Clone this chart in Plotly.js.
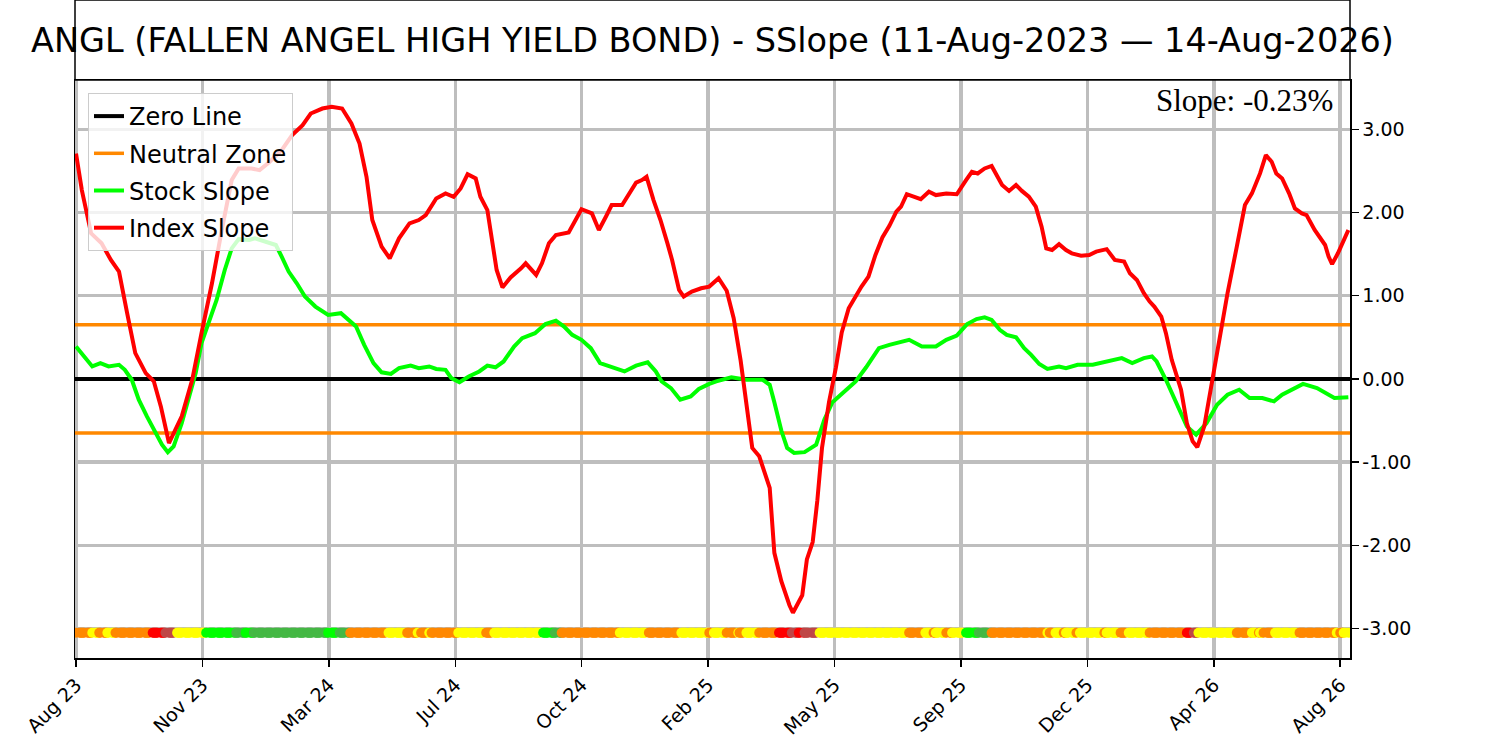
<!DOCTYPE html>
<html>
<head>
<meta charset="utf-8">
<script src="https://cdn.plot.ly/plotly-3.0.1.min.js"></script>
<style>html,body{margin:0;padding:0;background:#fff;}#chart{width:1500px;height:741px;}</style>
</head>
<body>
<div id="chart"></div>
<script>
// ---------- data ----------
const chartTitle = 'ANGL (FALLEN ANGEL HIGH YIELD BOND) - SSlope (11-Aug-2023 \u2014 14-Aug-2026)';
const slopeText = 'Slope: -0.23%';

const xRange = ['2023-08-10 03:00', '2026-08-11 10:00'];
const xTickVals = ['2023-08-11', '2023-11-27 19:00', '2024-03-15 14:00', '2024-07-02 10:00', '2024-10-19 05:00',
  '2025-02-05', '2025-05-24 19:00', '2025-09-10 14:00', '2025-12-28 10:00', '2026-04-16 05:00', '2026-08-03'];
const xTickText = ['Aug 23', 'Nov 23', 'Mar 24', 'Jul 24', 'Oct 24', 'Feb 25', 'May 25', 'Sep 25', 'Dec 25', 'Apr 26', 'Aug 26'];

const yRange = [-3.354, 3.593];
const yTickVals = [-3, -2, -1, 0, 1, 2, 3];
const yTickText = ['-3.00', '-2.00', '-1.00', '0.00', '1.00', '2.00', '3.00'];

const zeroLevel = 0;
const neutralBand = 0.65;
const stripLevel = -3.05;

const indexDates = ['2023-08-11','2023-08-16','2023-08-24','2023-09-02','2023-09-10','2023-09-17','2023-09-24','2023-10-01','2023-10-10','2023-10-17',
 '2023-10-23','2023-10-30','2023-11-10','2023-11-19','2023-11-27','2023-12-06','2023-12-15','2023-12-23','2023-12-29','2024-01-09',
 '2024-01-16','2024-01-24','2024-02-04','2024-02-13','2024-02-22','2024-02-29','2024-03-10','2024-03-18','2024-03-27','2024-04-04',
 '2024-04-11','2024-04-17','2024-04-22','2024-04-30','2024-05-07','2024-05-15','2024-05-24','2024-06-01','2024-06-07','2024-06-16',
 '2024-06-24','2024-07-01','2024-07-07','2024-07-13','2024-07-20','2024-07-24','2024-07-30','2024-08-03','2024-08-07','2024-08-12',
 '2024-08-19','2024-08-28','2024-09-01','2024-09-10','2024-09-15','2024-09-21','2024-09-27','2024-10-08','2024-10-14','2024-10-19',
 '2024-10-28','2024-11-03','2024-11-09','2024-11-14','2024-11-23','2024-11-29','2024-12-05','2024-12-10','2024-12-14','2024-12-20',
 '2024-12-26','2025-01-01','2025-01-05','2025-01-11','2025-01-15','2025-01-22','2025-01-30','2025-02-06','2025-02-14','2025-02-21',
 '2025-02-27','2025-03-05','2025-03-10','2025-03-15','2025-03-21','2025-03-30','2025-04-03','2025-04-09','2025-04-16','2025-04-19',
 '2025-04-27','2025-05-01','2025-05-06','2025-05-10','2025-05-14','2025-05-20','2025-05-26','2025-05-31','2025-06-06','2025-06-12',
 '2025-06-17','2025-06-23','2025-06-29','2025-07-05','2025-07-11','2025-07-17','2025-07-21','2025-07-26','2025-08-07','2025-08-14',
 '2025-08-20','2025-08-29','2025-09-07','2025-09-15','2025-09-20','2025-09-25','2025-10-01','2025-10-07','2025-10-11','2025-10-16',
 '2025-10-22','2025-10-28','2025-11-02','2025-11-08','2025-11-14','2025-11-19','2025-11-23','2025-11-28','2025-12-04','2025-12-10',
 '2025-12-15','2025-12-23','2025-12-30','2026-01-05','2026-01-14','2026-01-21','2026-01-29','2026-02-03','2026-02-09','2026-02-15',
 '2026-02-20','2026-02-24','2026-03-02','2026-03-06','2026-03-11','2026-03-19','2026-03-24','2026-03-29','2026-04-02','2026-04-08',
 '2026-04-14','2026-04-21','2026-04-28','2026-05-06','2026-05-13','2026-05-19','2026-05-26','2026-05-31','2026-06-05','2026-06-09',
 '2026-06-14','2026-06-20','2026-06-25','2026-07-01','2026-07-05','2026-07-12','2026-07-16','2026-07-21','2026-07-24','2026-07-27',
 '2026-08-01','2026-08-10'];
const indexSlope = [2.71,2.27,1.75,1.63,1.43,1.29,0.79,0.31,0.07,-0.03,
 -0.33,-0.77,-0.45,-0.01,0.55,1.15,1.83,2.39,2.53,2.53,
 2.51,2.60,2.75,2.93,3.05,3.19,3.25,3.27,3.25,3.07,
 2.83,2.43,1.91,1.59,1.45,1.69,1.87,1.91,1.97,2.17,
 2.23,2.19,2.29,2.46,2.41,2.19,2.03,1.67,1.31,1.10,
 1.22,1.33,1.39,1.25,1.39,1.63,1.73,1.76,1.91,2.04,
 1.99,1.79,1.95,2.09,2.09,2.23,2.36,2.39,2.43,2.15,
 1.91,1.63,1.43,1.07,0.99,1.05,1.09,1.11,1.21,1.06,
 0.73,0.22,-0.32,-0.83,-0.93,-1.31,-2.09,-2.43,-2.72,-2.81,
 -2.60,-2.17,-1.96,-1.46,-0.83,-0.28,0.14,0.56,0.85,1.00,
 1.11,1.23,1.49,1.70,1.84,2.01,2.07,2.22,2.16,2.25,
 2.21,2.23,2.22,2.39,2.49,2.47,2.53,2.56,2.45,2.33,
 2.26,2.33,2.26,2.19,2.07,1.83,1.57,1.55,1.62,1.55,
 1.51,1.48,1.49,1.53,1.56,1.43,1.41,1.27,1.19,1.03,
 0.93,0.87,0.75,0.55,0.23,-0.13,-0.53,-0.75,-0.82,-0.57,
 -0.09,0.47,1.03,1.59,2.09,2.23,2.47,2.69,2.61,2.47,
 2.41,2.23,2.05,1.99,1.97,1.79,1.71,1.61,1.47,1.38,
 1.51,1.79];

const stockDates = ['2023-08-11','2023-08-18','2023-08-25','2023-09-01','2023-09-08','2023-09-17','2023-09-22','2023-09-28','2023-10-04','2023-10-11',
 '2023-10-18','2023-10-24','2023-10-29','2023-11-03','2023-11-10','2023-11-16','2023-11-22','2023-11-27','2023-12-03','2023-12-10',
 '2023-12-17','2023-12-23','2023-12-29','2024-01-07','2024-01-12','2024-01-21','2024-01-30','2024-02-04','2024-02-10','2024-02-17',
 '2024-02-24','2024-03-04','2024-03-15','2024-03-26','2024-03-31','2024-04-08','2024-04-15','2024-04-23','2024-04-30','2024-05-08',
 '2024-05-15','2024-05-25','2024-06-01','2024-06-10','2024-06-16','2024-06-24','2024-06-29','2024-07-06','2024-07-14','2024-07-23',
 '2024-07-30','2024-08-06','2024-08-13','2024-08-22','2024-08-29','2024-09-09','2024-09-18','2024-09-27','2024-10-04','2024-10-11',
 '2024-10-19','2024-10-27','2024-11-04','2024-11-14','2024-11-25','2024-12-05','2024-12-15','2024-12-22','2024-12-27','2025-01-04',
 '2025-01-12','2025-01-21','2025-01-28','2025-02-06','2025-02-12','2025-02-25','2025-03-10','2025-03-24','2025-03-30','2025-04-03',
 '2025-04-09','2025-04-14','2025-04-20','2025-04-29','2025-05-09','2025-05-16','2025-05-23','2025-06-04','2025-06-12','2025-06-21',
 '2025-06-26','2025-07-02','2025-07-11','2025-07-19','2025-07-28','2025-08-08','2025-08-20','2025-08-29','2025-09-07','2025-09-16',
 '2025-09-24','2025-10-01','2025-10-07','2025-10-14','2025-10-20','2025-10-28','2025-11-04','2025-11-10','2025-11-17','2025-11-24',
 '2025-12-04','2025-12-10','2025-12-20','2026-01-02','2026-01-14','2026-01-27','2026-02-05','2026-02-15','2026-02-22','2026-02-26',
 '2026-03-06','2026-03-15','2026-03-24','2026-04-01','2026-04-10','2026-04-19','2026-04-28','2026-05-08','2026-05-17','2026-05-28',
 '2026-06-07','2026-06-14','2026-06-23','2026-07-02','2026-07-14','2026-07-21','2026-07-29','2026-08-10'];
const stockSlope = [0.39,0.27,0.15,0.19,0.15,0.17,0.11,-0.01,-0.25,-0.45,
 -0.63,-0.79,-0.88,-0.81,-0.53,-0.25,0.07,0.43,0.67,0.95,
 1.31,1.57,1.68,1.67,1.69,1.65,1.61,1.47,1.29,1.15,
 0.99,0.87,0.77,0.79,0.73,0.63,0.41,0.19,0.08,0.06,
 0.13,0.16,0.13,0.15,0.12,0.11,0.01,-0.04,0.03,0.09,
 0.16,0.14,0.21,0.39,0.49,0.55,0.66,0.70,0.63,0.53,
 0.47,0.37,0.19,0.14,0.09,0.16,0.20,0.09,-0.03,-0.11,
 -0.25,-0.21,-0.12,-0.06,-0.03,0.02,-0.01,-0.01,-0.07,-0.28,
 -0.62,-0.83,-0.89,-0.88,-0.79,-0.49,-0.28,-0.13,-0.03,0.14,
 0.24,0.37,0.41,0.44,0.47,0.39,0.39,0.47,0.52,0.66,
 0.72,0.74,0.71,0.59,0.53,0.50,0.37,0.29,0.18,0.12,
 0.15,0.13,0.17,0.17,0.21,0.25,0.19,0.25,0.27,0.21,
 -0.01,-0.29,-0.57,-0.67,-0.53,-0.31,-0.19,-0.13,-0.23,-0.23,
 -0.27,-0.19,-0.13,-0.06,-0.11,-0.17,-0.23,-0.22];

// status strip: each run starts at a date and keeps its state until the next start
const statusStart = ['2023-08-11','2023-08-25','2023-08-31','2023-09-07','2023-09-14','2023-10-15','2023-10-27','2023-11-05','2023-12-01','2023-12-27',
 '2024-01-04','2024-01-11','2024-03-15','2024-03-24','2024-04-03','2024-05-06','2024-05-22','2024-05-31','2024-06-03','2024-06-08',
 '2024-06-12','2024-07-05','2024-07-28','2024-08-03','2024-09-15','2024-09-26','2024-10-02','2024-11-21','2024-12-14','2025-01-13',
 '2025-02-06','2025-02-10','2025-02-21','2025-03-01','2025-03-04','2025-03-10','2025-03-21','2025-04-07','2025-04-18','2025-04-24',
 '2025-04-29','2025-05-12','2025-07-26','2025-08-11','2025-08-16','2025-08-20','2025-08-29','2025-09-03','2025-09-15','2025-09-26',
 '2025-10-07','2025-11-23','2025-11-26','2025-11-30','2025-12-06','2025-12-10','2025-12-19','2025-12-21','2026-01-11','2026-01-14',
 '2026-01-24','2026-02-02','2026-02-20','2026-03-24','2026-03-30','2026-04-03','2026-05-06','2026-05-19','2026-05-23','2026-05-26',
 '2026-05-29','2026-06-06','2026-06-29','2026-07-31','2026-08-03','2026-08-06'];
const statusState = ['O','Y','O','Y','O','R','B','Y','L','G',
 'L','G','L','G','O','Y','O','Y','O','Y',
 'O','Y','O','Y','L','G','O','Y','O','Y',
 'O','Y','O','Y','O','Y','O','R','B','R',
 'B','Y','O','Y','O','Y','O','Y','L','G',
 'O','Y','O','Y','O','Y','O','Y','O','Y',
 'O','Y','O','R','B','Y','O','Y','O','Y',
 'O','Y','O','Y','O','Y'];
const statusEnd = '2026-08-10';

// ---------- styles ----------
const palette = {O:'#ff8800', Y:'#ffff00', R:'#ff0000', B:'#bf4747', L:'#00ff00', G:'#44b844'};
const gridCol = '#bebebe';

// expand runs into one dot per trading day
const stripX = [], stripC = [];
(function(){
  let seg = 0;
  const t0 = Date.parse(statusStart[0] + 'T00:00:00Z');
  const t1 = Date.parse(statusEnd + 'T00:00:00Z');
  for (let t = t0; t <= t1; t += 86400000) {
    const d = new Date(t);
    const wd = d.getUTCDay();
    if (wd === 0 || wd === 6) continue;
    const iso = d.toISOString().slice(0, 10);
    while (seg + 1 < statusStart.length && statusStart[seg + 1] <= iso) seg++;
    stripX.push(iso);
    stripC.push(palette[statusState[seg]]);
  }
})();

const traces = [
  {x: stripX, y: stripX.map(() => stripLevel), type:'scatter', mode:'markers',
   marker:{size:10, color:stripC, line:{width:0}}, showlegend:false, hoverinfo:'skip'},
  {x: [xRange[0], xRange[1]], y: [zeroLevel, zeroLevel], type:'scatter', mode:'lines',
   name:'Zero Line', legendgroup:'a', line:{color:'#000000', width:4}},
  {x: [xRange[0], xRange[1], null, xRange[0], xRange[1]], y: [neutralBand, neutralBand, null, -neutralBand, -neutralBand],
   type:'scatter', mode:'lines', name:'Neutral Zone', legendgroup:'b', connectgaps:false, line:{color:'#ff8800', width:3.5}},
  {x: stockDates, y: stockSlope, type:'scatter', mode:'lines', name:'Stock Slope', legendgroup:'c',
   line:{color:'#00ff00', width:4}},
  {x: indexDates, y: indexSlope, type:'scatter', mode:'lines', name:'Index Slope', legendgroup:'d',
   line:{color:'#ff0000', width:4}}
];

const layout = {
  width:1500, height:741,
  margin:{l:75, r:150, t:80, b:83, pad:0},
  paper_bgcolor:'#ffffff', plot_bgcolor:'#ffffff',
  font:{family:'DejaVu Sans', color:'#000000'},
  title:{text:chartTitle, font:{size:33.5, family:'DejaVu Sans', color:'#000000'},
         xref:'paper', x:0.5, xanchor:'center', yref:'container', y:0.945, yanchor:'middle'},
  xaxis:{type:'date', range:xRange, tickmode:'array', tickvals:xTickVals, ticktext:xTickText,
         tickangle:-45, ticks:'outside', ticklen:7, tickwidth:1.5, tickcolor:'#000000',
         showline:true, linecolor:'#000000', linewidth:1.5, mirror:true,
         showgrid:true, gridcolor:gridCol, gridwidth:3.5, zeroline:false,
         tickfont:{size:19, family:'DejaVu Sans'}},
  yaxis:{side:'right', range:yRange, tickmode:'array', tickvals:yTickVals, ticktext:yTickText,
         ticks:'outside', ticklen:7, tickwidth:1.5, tickcolor:'#000000',
         showline:true, linecolor:'#000000', linewidth:1.5, mirror:true,
         showgrid:true, gridcolor:gridCol, gridwidth:3.5, zeroline:false,
         tickfont:{size:19, family:'DejaVu Sans'}},
  legend:{x:0.0102, y:0.9775, xanchor:'left', yanchor:'top',
          bgcolor:'rgba(255,255,255,0.8)', bordercolor:'#cccccc', borderwidth:1,
          font:{size:24, family:'DejaVu Sans', color:'#000000'}, tracegroupgap:3, itemwidth:30},
  shapes:[{type:'rect', xref:'paper', yref:'paper', x0:0, x1:1, y0:1, y1:1.1384,
           line:{color:'#000000', width:1.5}, fillcolor:'rgba(0,0,0,0)'}],
  annotations:[{text:slopeText, xref:'paper', yref:'paper', x:0.9882, y:0.9637,
                xanchor:'right', yanchor:'middle', showarrow:false,
                font:{family:'Liberation Serif', size:31, color:'#000000'}}],
  showlegend:true
};

Plotly.newPlot('chart', traces, layout, {displayModeBar:false, staticPlot:true});
</script>
</body>
</html>
